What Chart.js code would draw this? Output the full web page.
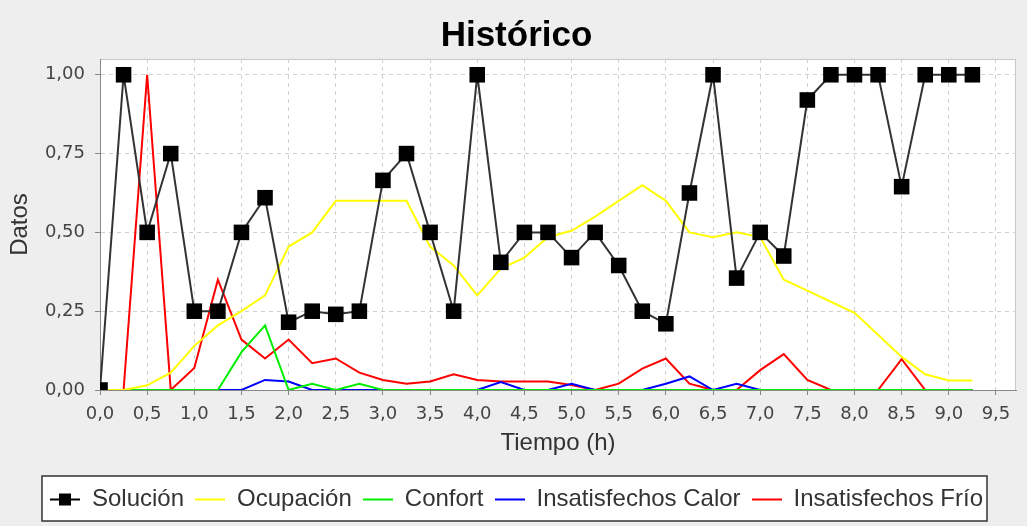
<!DOCTYPE html>
<html>
<head>
<meta charset="utf-8">
<script src="https://cdn.jsdelivr.net/npm/chart.js@4.4.0/dist/chart.umd.min.js"></script>
<style>
    html, body { margin: 0; background: #eeeeee; }
    #contenedor { width: 1027px; height: 526px; }
</style>
</head>
<body>
<div id="contenedor"><canvas id="grafico"></canvas></div>
<script>
const horas = [0, 0.25, 0.5, 0.75, 1, 1.25, 1.5, 1.75, 2, 2.25, 2.5, 2.75, 3, 3.25, 3.5, 3.75, 4, 4.25, 4.5,
    4.75, 5, 5.25, 5.5, 5.75, 6, 6.25, 6.5, 6.75, 7, 7.25, 7.5, 7.75, 8, 8.25, 8.5, 8.75, 9, 9.25];

const solucion = [0, 1, 0.5, 0.75, 0.25, 0.25, 0.5, 0.61, 0.215, 0.25, 0.24, 0.25, 0.665, 0.75, 0.5, 0.25, 1, 0.405, 0.5,
    0.5, 0.42, 0.5, 0.395, 0.25, 0.21, 0.625, 1, 0.355, 0.5, 0.425, 0.92, 1, 1, 1, 0.645, 1, 1, 1];

const ocupacion = [0, 0, 0.015, 0.055, 0.14, 0.205, 0.25, 0.3, 0.455, 0.5, 0.6, 0.6, 0.6, 0.6, 0.455, 0.395, 0.3, 0.385, 0.42,
    0.485, 0.505, 0.55, 0.6, 0.65, 0.6, 0.5, 0.485, 0.5, 0.485, 0.35, 0.315, 0.28, 0.245, 0.175, 0.105, 0.05, 0.03, 0.03];

const confort = [0, 0, 0, 0, 0, 0, 0.12, 0.205, 0, 0.02, 0, 0.02, 0, 0, 0, 0, 0, 0, 0,
    0, 0, 0, 0, 0, 0, 0, 0, 0, 0, 0, 0, 0, 0, 0, 0, 0, 0, 0];

const calor = [0, 0, 0, 0, 0, 0, 0, 0.032, 0.027, 0, 0, 0, 0, 0, 0, 0, 0, 0.025, 0,
    0, 0.02, 0, 0, 0, 0.02, 0.043, 0, 0.02, 0, 0, 0, 0, 0, 0, 0, 0, 0, 0];

const frio = [0, 0, 1, 0, 0.07, 0.35, 0.16, 0.1, 0.16, 0.085, 0.1, 0.055, 0.032, 0.02, 0.027, 0.05, 0.032, 0.027, 0.027,
    0.027, 0.016, 0, 0.02, 0.068, 0.1, 0.02, 0, 0, 0.063, 0.114, 0.032, 0, 0, 0, 0.098, 0, 0, 0];

const marcasX = [0, 0.5, 1, 1.5, 2, 2.5, 3, 3.5, 4, 4.5, 5, 5.5, 6, 6.5, 7, 7.5, 8, 8.5, 9, 9.5];
const marcasY = [0, 0.25, 0.5, 0.75, 1];

const series = [
    { nombre: "Solución",             valores: solucion,  color: "#333333", cuadro: true },
    { nombre: "Ocupación",            valores: ocupacion, color: "#ffff00" },
    { nombre: "Confort",              valores: confort,   color: "#00ee00" },
    { nombre: "Insatisfechos Calor",  valores: calor,     color: "#0000ff" },
    { nombre: "Insatisfechos Frío",   valores: frio,      color: "#ff0000" },
];

function iconoLeyenda(color, cuadro) {
    const c = document.createElement("canvas");
    c.width = 30;
    c.height = 14;
    const g = c.getContext("2d");
    g.strokeStyle = cuadro ? "#000" : color;
    g.lineWidth = 2;
    g.beginPath();
    g.moveTo(0, 7);
    g.lineTo(30, 7);
    g.stroke();
    if (cuadro) {
        g.fillStyle = "#000";
        g.fillRect(9, 1, 12, 12);
    }
    return c;
}

// Fondo gris, área del gráfico blanca y marco de la leyenda
const fondo = {
    id: "fondo",
    beforeDraw(chart) {
        const { ctx, chartArea: a, legend } = chart;
        ctx.save();
        ctx.fillStyle = "#eeeeee";
        ctx.fillRect(0, 0, chart.width, chart.height);
        ctx.fillStyle = "#ffffff";
        ctx.fillRect(a.left, a.top, a.right - a.left, a.bottom - a.top);
        ctx.strokeStyle = "#c8c8c8";
        ctx.lineWidth = 1;
        ctx.strokeRect(a.left + 0.5, a.top + 0.5, a.right - a.left - 1, a.bottom - a.top);

        const cajas = legend.legendHitBoxes;
        if (cajas && cajas.length) {
            const ultima = cajas[cajas.length - 1];
            const x0 = cajas[0].left - 8;
            const x1 = ultima.left + ultima.width + 4;
            const y0 = legend.top - 0.5;
            const y1 = legend.bottom - 0.5;
            ctx.fillStyle = "#ffffff";
            ctx.fillRect(x0, y0, x1 - x0, y1 - y0);
            ctx.strokeStyle = "#333333";
            ctx.lineWidth = 1.5;
            ctx.strokeRect(x0, y0, x1 - x0, y1 - y0);
        }
        ctx.restore();
    }
};

const datasets = series.map(s => ({
    label: s.nombre,
    data: horas.map((h, i) => ({ x: h, y: s.valores[i] })),
    borderColor: s.color,
    borderWidth: 2,
    backgroundColor: s.cuadro ? "#000" : s.color,
    pointStyle: s.cuadro ? "rect" : "circle",
    pointRadius: s.cuadro ? 11 : 0,
    pointHoverRadius: s.cuadro ? 11 : 0,
    pointBorderColor: "#000",
    pointBorderWidth: 0,
    tension: 0,
    fill: false,
}));

new Chart(document.getElementById("grafico"), {
    type: "line",
    data: { datasets },
    plugins: [fondo],
    options: {
        responsive: true,
        maintainAspectRatio: false,
        animation: false,
        layout: { padding: { left: 10, right: 4, top: 0, bottom: 4.5 } },
        plugins: {
            tooltip: { enabled: false },
            title: {
                display: true,
                text: "Histórico",
                color: "#000",
                font: { family: "Liberation Sans", size: 35, weight: "bold" },
                padding: { top: 15, bottom: 2 },
            },
            legend: {
                position: "bottom",
                labels: {
                    usePointStyle: true,
                    pointStyleWidth: 30,
                    padding: 11,
                    color: "#333",
                    font: { family: "Liberation Sans", size: 24 },
                    generateLabels: () => series.map((s, i) => ({
                        text: s.nombre,
                        pointStyle: iconoLeyenda(s.color, s.cuadro),
                        fillStyle: s.color,
                        strokeStyle: s.color,
                        lineWidth: 0,
                        fontColor: "#333",
                        hidden: false,
                        datasetIndex: i,
                    })),
                },
            },
        },
        scales: {
            x: {
                type: "linear",
                min: 0,
                max: 9.7125,
                afterBuildTicks: s => { s.ticks = marcasX.map(v => ({ value: v })); },
                afterFit: s => { s.height = 86.5; },
                ticks: {
                    callback: v => v.toFixed(1).replace(".", ","),
                    color: "#444",
                    font: { family: "DejaVu Sans", size: 18 },
                    padding: 9,
                    maxRotation: 0,
                    autoSkip: false,
                },
                grid: { color: "#d0d0d0", tickColor: "#888", tickLength: 5 },
                border: { color: "#888", width: 1, dash: [4, 4] },
                title: {
                    display: true,
                    text: "Tiempo (h)",
                    color: "#333",
                    font: { family: "Liberation Sans", size: 24 },
                    padding: { top: 0, bottom: 19 },
                },
            },
            y: {
                min: 0,
                max: 1.05,
                afterBuildTicks: s => { s.ticks = marcasY.map(v => ({ value: v })); },
                afterFit: s => { s.width = 90; },
                ticks: {
                    callback: v => v.toFixed(2).replace(".", ","),
                    color: "#444",
                    font: { family: "DejaVu Sans", size: 18 },
                    padding: 10,
                },
                grid: { color: "#d0d0d0", tickColor: "#888", tickLength: 5 },
                border: { color: "#888", width: 1, dash: [4, 4] },
                title: {
                    display: true,
                    text: "Datos",
                    color: "#333",
                    font: { family: "Liberation Sans", size: 24 },
                    padding: { top: -4, bottom: 0 },
                },
            },
        },
    },
});
</script>
</body>
</html>
